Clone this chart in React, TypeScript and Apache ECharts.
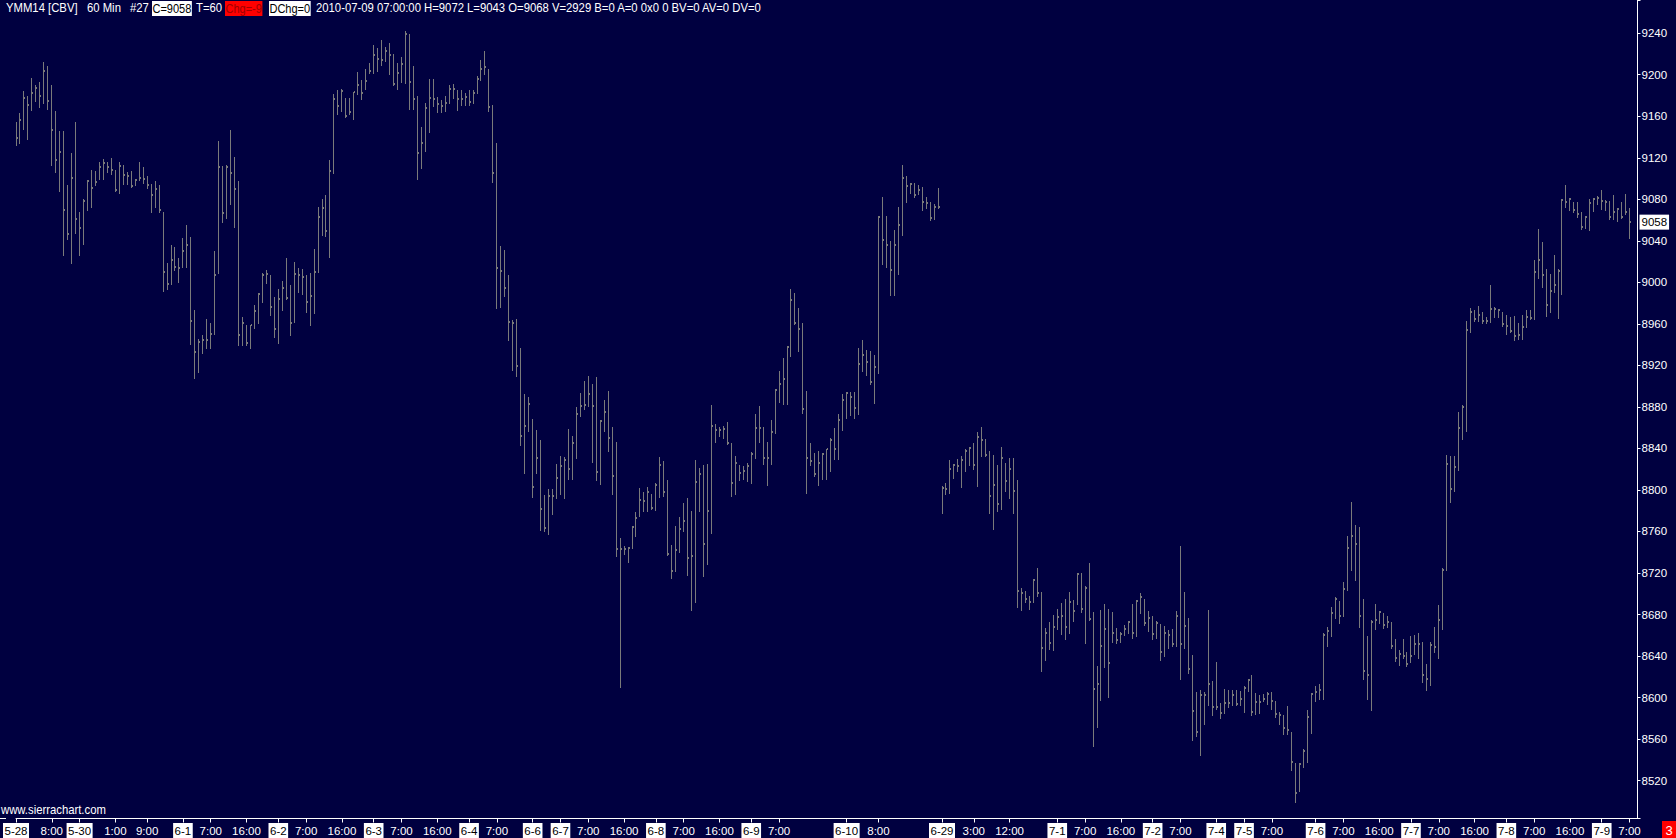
import React, { useEffect, useRef } from 'react';
import * as echarts from 'echarts';

// ---- data ----
const highs = [
  9154,9163,9184,9180,9197,9190,9193,9212,9208,9190,
  9165,9146,9146,9094,9125,9154,9068,9080,9099,9108,
  9107,9116,9119,9116,9120,9108,9116,9113,9106,9107,
  9100,9116,9111,9102,9095,9098,9094,9068,9019,9036,
  9034,9023,9043,9055,9044,8973,8945,8949,8965,8961,
  9030,9136,9112,9113,9147,9121,9098,8967,8959,8959,
  8978,8990,9009,9012,9007,8986,8994,9001,9023,8997,
  9020,9014,9013,9007,9009,9032,9073,9080,9084,9118,
  9181,9185,9186,9178,9178,9183,9203,9195,9206,9211,
  9229,9226,9233,9227,9231,9220,9211,9217,9242,9239,
  9208,9180,9150,9173,9196,9196,9179,9176,9180,9190,
  9191,9185,9185,9182,9185,9185,9199,9214,9223,9206,
  9171,9134,9035,9031,9007,8964,8965,8937,8892,8890,
  8868,8858,8848,8795,8801,8801,8825,8833,8832,8859,
  8852,8880,8893,8905,8910,8902,8909,8867,8887,8895,
  8861,8846,8754,8746,8745,8765,8779,8802,8798,8803,
  8796,8807,8832,8828,8810,8747,8765,8774,8787,8792,
  8780,8829,8821,8824,8825,8882,8864,8861,8862,8865,
  8845,8833,8824,8823,8826,8837,8873,8881,8861,8846,
  8867,8897,8915,8927,8939,8994,8990,8975,8961,8895,
  8845,8836,8838,8836,8839,8850,8860,8873,8892,8894,
  8894,8894,8937,8944,8935,8934,8930,9064,9082,9064,
  9040,9050,9073,9113,9102,9096,9096,9094,9092,9082,
  9077,9075,9091,8804,8807,8829,8825,8830,8833,8839,
  8841,8845,8856,8861,8849,8838,8834,8824,8841,8826,
  8831,8831,8810,8706,8703,8698,8714,8725,8702,8667,
  8673,8680,8685,8691,8695,8702,8694,8720,8720,8707,
  8730,8682,8630,8684,8690,8685,8682,8667,8663,8670,
  8674,8690,8694,8701,8695,8683,8679,8674,8671,8669,
  8665,8666,8683,8746,8702,8677,8641,8605,8607,8605,
  8684,8616,8634,8595,8608,8607,8607,8607,8606,8611,
  8618,8622,8604,8602,8603,8605,8605,8597,8586,8583,
  8592,8567,8537,8537,8550,8588,8604,8611,8613,8662,
  8668,8687,8697,8693,8711,8756,8788,8766,8764,8695,
  8659,8675,8690,8683,8681,8679,8673,8656,8646,8656,
  8644,8659,8660,8662,8654,8632,8654,8668,8689,8725,
  8834,8833,8833,8875,8882,8963,8975,8973,8977,8971,
  8967,8997,8976,8974,8971,8969,8967,8968,8961,8969,
  8973,8973,9022,9051,9039,9013,9008,9026,9013,9080,
  9094,9081,9077,9077,9068,9064,9080,9081,9083,9089,
  9079,9078,9084,9072,9077,9085,9072,
];

const lows = [
  9132,9134,9148,9138,9166,9175,9169,9173,9167,9113,
  9106,9088,9026,9042,9019,9048,9026,9037,9070,9073,
  9094,9100,9100,9106,9104,9088,9086,9095,9095,9092,
  9094,9099,9096,9091,9068,9073,9068,8992,8994,8998,
  9012,9000,9015,9015,8941,8908,8914,8932,8937,8937,
  8950,9009,9058,9062,9075,9053,8940,8940,8940,8937,
  8956,8961,8981,8999,8969,8947,8942,8973,8984,8949,
  8962,8991,8989,8971,8959,8970,9010,9046,9045,9024,
  9105,9162,9165,9159,9162,9157,9181,9177,9186,9202,
  9202,9204,9209,9213,9201,9190,9186,9193,9192,9167,
  9167,9100,9110,9127,9145,9170,9164,9164,9165,9173,
  9178,9166,9171,9171,9171,9173,9182,9195,9201,9165,
  9097,8975,8976,8987,8944,8916,8910,8843,8816,8857,
  8793,8816,8761,8760,8758,8777,8792,8796,8792,8811,
  8811,8831,8871,8878,8881,8827,8810,8806,8857,8838,
  8796,8736,8610,8738,8731,8744,8756,8775,8780,8780,
  8782,8781,8793,8794,8737,8715,8722,8740,8760,8718,
  8684,8692,8780,8717,8729,8759,8846,8852,8850,8844,
  8794,8796,8810,8811,8809,8807,8831,8846,8825,8805,
  8825,8855,8885,8883,8883,8929,8960,8934,8874,8797,
  8824,8813,8805,8811,8811,8818,8830,8830,8858,8869,
  8872,8869,8873,8915,8911,8902,8884,8913,9018,9015,
  8988,8988,9008,9046,9077,9086,9082,9085,9070,9072,
  9060,9061,9072,8778,8796,8797,8812,8818,8803,8818,
  8824,8820,8804,8833,8833,8778,8762,8780,8782,8799,
  8792,8778,8687,8684,8692,8685,8692,8698,8626,8636,
  8647,8646,8666,8661,8656,8662,8674,8690,8682,8653,
  8675,8553,8572,8598,8629,8601,8654,8653,8654,8660,
  8662,8657,8659,8681,8670,8664,8656,8657,8636,8640,
  8648,8650,8650,8618,8648,8624,8559,8563,8545,8575,
  8593,8583,8589,8580,8585,8591,8593,8593,8593,8586,
  8606,8583,8584,8585,8597,8594,8589,8581,8575,8565,
  8565,8530,8499,8510,8533,8538,8566,8597,8599,8599,
  8650,8659,8677,8672,8679,8704,8723,8713,8668,8618,
  8599,8588,8666,8672,8667,8668,8648,8635,8631,8638,
  8630,8634,8642,8638,8615,8607,8612,8644,8638,8666,
  8723,8788,8799,8819,8849,8857,8952,8963,8963,8961,
  8961,8962,8967,8967,8958,8950,8952,8944,8945,8945,
  8957,8965,8965,9004,8996,8968,8971,8991,8966,8989,
  9073,9070,9068,9063,9051,9052,9050,9069,9075,9071,
  9070,9061,9061,9059,9062,9066,9043,
];

const closes = [
  9139,9156,9178,9171,9182,9187,9180,9204,9175,9147,
  9118,9126,9070,9047,9101,9061,9052,9078,9098,9091,
  9097,9111,9115,9111,9108,9089,9112,9103,9102,9093,
  9099,9101,9100,9094,9084,9090,9070,9010,8998,9022,
  9015,9014,9030,9036,8963,8933,8943,8944,8944,8950,
  9007,9111,9067,9111,9105,9090,8949,8961,8942,8959,
  8972,8989,9007,9008,8976,8955,8984,8995,8985,8961,
  9008,9007,9005,8981,8987,9010,9063,9072,9049,9107,
  9177,9170,9184,9160,9164,9183,9190,9182,9194,9204,
  9219,9215,9214,9223,9219,9191,9202,9210,9239,9193,
  9177,9125,9134,9168,9178,9177,9172,9170,9173,9186,
  9186,9177,9177,9179,9174,9182,9196,9206,9207,9169,
  9105,9014,9011,8995,8962,8961,8919,8852,8862,8883,
  8803,8831,8782,8763,8794,8794,8812,8823,8829,8820,
  8845,8873,8881,8882,8892,8881,8817,8866,8875,8850,
  8813,8743,8743,8743,8744,8764,8773,8790,8789,8798,
  8783,8805,8824,8798,8738,8722,8742,8762,8770,8734,
  8736,8808,8815,8748,8780,8862,8858,8858,8859,8845,
  8807,8826,8816,8818,8823,8835,8860,8860,8831,8831,
  8856,8896,8902,8907,8938,8983,8961,8955,8878,8831,
  8828,8815,8826,8835,8839,8848,8839,8867,8887,8893,
  8890,8879,8921,8930,8923,8904,8918,9063,9041,9036,
  9012,9036,9055,9101,9093,9095,9084,9089,9077,9076,
  9062,9073,9073,8802,8801,8820,8824,8823,8829,8838,
  8840,8824,8851,8848,8834,8794,8805,8786,8831,8809,
  8820,8799,8703,8701,8695,8692,8713,8701,8648,8662,
  8653,8668,8678,8679,8668,8692,8683,8719,8685,8706,
  8676,8608,8613,8650,8666,8633,8662,8655,8661,8666,
  8673,8662,8693,8697,8672,8677,8661,8672,8644,8662,
  8660,8652,8679,8652,8669,8628,8587,8567,8602,8602,
  8613,8591,8591,8585,8595,8595,8602,8594,8599,8609,
  8617,8586,8596,8596,8599,8603,8597,8584,8583,8571,
  8569,8538,8508,8536,8549,8581,8603,8605,8607,8660,
  8664,8681,8695,8679,8705,8744,8756,8748,8679,8626,
  8622,8673,8675,8682,8670,8673,8650,8638,8642,8640,
  8632,8640,8652,8652,8622,8618,8651,8649,8675,8723,
  8825,8801,8822,8860,8880,8954,8971,8965,8969,8963,
  8963,8974,8974,8973,8960,8958,8953,8948,8949,8957,
  8967,8966,9010,9022,9007,8978,8992,8997,9011,9079,
  9077,9080,9070,9066,9053,9063,9076,9080,9081,9078,
  9077,9063,9068,9071,9063,9068,9058,
];

// time-scale labels: bar index -> text
const labelIdx = [0,9,16,25,33,42,49,58,66,73,82,90,97,106,114,121,130,137,144,153,161,168,177,185,192,209,217,233,241,250,262,269,278,286,293,302,309,316,327,334,343,351,358,367,375,382,391,399,406];
const labelText = ['5-28','8:00','5-30','1:00','9:00','6-1','7:00','16:00','6-2','7:00','16:00','6-3','7:00','16:00','6-4','7:00','6-6','6-7','7:00','16:00','6-8','7:00','16:00','6-9','7:00','6-10','8:00','6-29','3:00','12:00','7-1','7:00','16:00','7-2','7:00','7-4','7-5','7:00','7-6','7:00','16:00','7-7','7:00','16:00','7-8','7:00','16:00','7-9','7:00'];

const yMin = 8483.5;
const yMax = 9272;
const yStep = 40;
const lastPrice = 9058;
const lastIndex = highs.length - 1;

const headerParts = [
  { text: 'YMM14 [CBV]', x: 6, kind: 'plain' },
  { text: '60 Min', x: 87, kind: 'plain' },
  { text: '#27', x: 130, kind: 'plain' },
  { text: 'C=9058', x: 152, kind: 'white' },
  { text: 'T=60', x: 196, kind: 'plain' },
  { text: 'Chg=-9', x: 225, kind: 'red' },
  { text: 'DChg=0', x: 269, kind: 'white' },
  { text: '2010-07-09 07:00:00 H=9072 L=9043 O=9068 V=2929 B=0 A=0 0x0 0 BV=0 AV=0 DV=0', x: 316, kind: 'plain' },
];

const FONT = '"Liberation Sans", Arial, sans-serif';
const AXIS_FS = 11.5;
const TEXT_SCALE = 0.87;
const BG = '#000040';
const BAR = '#7a7a7a';

export default function App() {
  const ref = useRef<HTMLDivElement>(null);

  useEffect(() => {
    const el = ref.current;
    if (!el) return;
    const chart = echarts.init(el, null, { renderer: 'svg' });

    const n = highs.length;
    const labelMap = new Map<number, string>();
    labelIdx.forEach((idx, k) => labelMap.set(idx, labelText[k]));
    const categories = Array.from({ length: n + 2 }, (_, i) => String(i));
    const showAt = (index: number) => labelMap.has(index);

    const data = highs.map((h, i) => [i, h, lows[i], closes[i]]);

    const header = headerParts.map((p) => {
      const style: any = {
        text: p.text,
        fill: p.kind === 'plain' ? '#ffffff' : p.kind === 'red' ? '#a00000' : '#000000',
        fontSize: 13,
        fontFamily: FONT,
        verticalAlign: 'top',
        align: 'left',
      };
      if (p.kind !== 'plain') {
        style.backgroundColor = p.kind === 'red' ? '#ff0000' : '#ffffff';
        style.padding = [1, 0.5, 1, 0.5];
      }
      return { type: 'text', x: p.x, y: 1, scaleX: p.kind === 'plain' ? TEXT_SCALE : 0.85, silent: true, style };
    });

    chart.setOption({
      animation: false,
      backgroundColor: BG,
      grid: { left: 5.5, right: 38.5, top: 0, bottom: 19.5, containLabel: false },
      xAxis: {
        type: 'category',
        boundaryGap: false,
        data: categories,
        axisLine: { show: true, lineStyle: { color: '#ffffff', width: 1 } },
        axisTick: { show: true, length: 4, interval: (i: number) => showAt(i), lineStyle: { color: '#ffffff' } },
        axisLabel: {
          interval: (i: number) => showAt(i),
          margin: 5,
          formatter: (_v: string, i: number) => {
            const t = labelMap.get(i);
            if (!t) return '';
            return t.indexOf('-') >= 0 ? `{d|${t}}` : `{t|${t}}`;
          },
          rich: {
            d: { color: '#000000', backgroundColor: '#ffffff', padding: [2, 1.5, 1, 1.5], fontSize: AXIS_FS, fontFamily: FONT, lineHeight: 14 },
            t: { color: '#ffffff', fontSize: AXIS_FS, fontFamily: FONT, lineHeight: 14, padding: [2, 0, 1, 0] },
          },
        },
        splitLine: { show: false },
      },
      yAxis: {
        type: 'value',
        position: 'right',
        min: yMin,
        max: yMax,
        minInterval: yStep,
        maxInterval: yStep,
        splitLine: { show: false },
        axisLine: { show: true, lineStyle: { color: '#ffffff', width: 1 } },
        axisTick: { show: true, length: 3, lineStyle: { color: '#ffffff' } },
        axisLabel: {
          color: '#ffffff',
          fontSize: AXIS_FS,
          fontFamily: FONT,
          margin: 4,
          formatter: (v: number) => (Math.abs(v % yStep) < 1e-6 ? String(v) : ''),
        },
      },
      series: [
        {
          type: 'custom',
          data,
          encode: { x: 0, y: [1, 2, 3] },
          clip: false,
          renderItem: (_params: any, api: any) => {
            const i = api.value(0);
            const pH = api.coord([i, api.value(1)]);
            const pL = api.coord([i, api.value(2)]);
            const pC = api.coord([i, api.value(3)]);
            const x = Math.round(pH[0] - 0.5) + 0.5;
            const yH = Math.round(pH[1]);
            const yL = Math.round(pL[1]) + 1;
            const yC = Math.round(pC[1]);
            return {
              type: 'group',
              children: [
                { type: 'line', shape: { x1: x, y1: yH, x2: x, y2: yL }, style: { stroke: BAR, lineWidth: 1 } },
                { type: 'rect', shape: { x: x + 0.5, y: yC - 1, width: 1, height: 2 }, style: { fill: BAR } },
              ],
            };
          },
        },
        {
          type: 'scatter',
          data: [[lastIndex, lastPrice]],
          symbolSize: 1,
          silent: true,
          itemStyle: { color: 'rgba(0,0,0,0)' },
          markLine: {
            silent: true,
            symbol: ['none', 'none'],
            lineStyle: { color: 'rgba(0,0,0,0)', width: 0, opacity: 1 },
            label: {
              show: true,
              position: 'end',
              distance: 2,
              formatter: String(lastPrice),
              color: '#000000',
              opacity: 1,
              backgroundColor: '#ffffff',
              padding: [2, 2, 1, 2],
              fontSize: AXIS_FS,
              fontFamily: FONT,
            },
            data: [{ yAxis: lastPrice }],
          },
        },
      ],
      graphic: [
        ...header,
        {
          type: 'line',
          silent: true,
          shape: { x1: 0, y1: 818.5, x2: 6, y2: 818.5 },
          style: { stroke: '#ffffff', lineWidth: 1 },
        },
        {
          type: 'text',
          x: 1,
          y: 803,
          scaleX: TEXT_SCALE,
          silent: true,
          style: { text: 'www.sierrachart.com', fill: '#ffffff', fontSize: 13, fontFamily: FONT, verticalAlign: 'top' },
        },
        {
          type: 'rect',
          x: 1662,
          y: 821,
          silent: true,
          shape: { x: 0, y: 0, width: 14, height: 17 },
          style: { fill: '#ff0000' },
        },
        {
          type: 'text',
          x: 1669,
          y: 830,
          silent: true,
          style: { text: '3', fill: '#ffffff', fontSize: 13, fontFamily: FONT, align: 'center', verticalAlign: 'middle' },
        },
      ],
    });

    return () => {
      chart.dispose();
    };
  }, []);

  return (
    <div
      ref={ref}
      style={{ position: 'fixed', left: 0, top: 0, width: 1676, height: 838, background: BG }}
    />
  );
}
